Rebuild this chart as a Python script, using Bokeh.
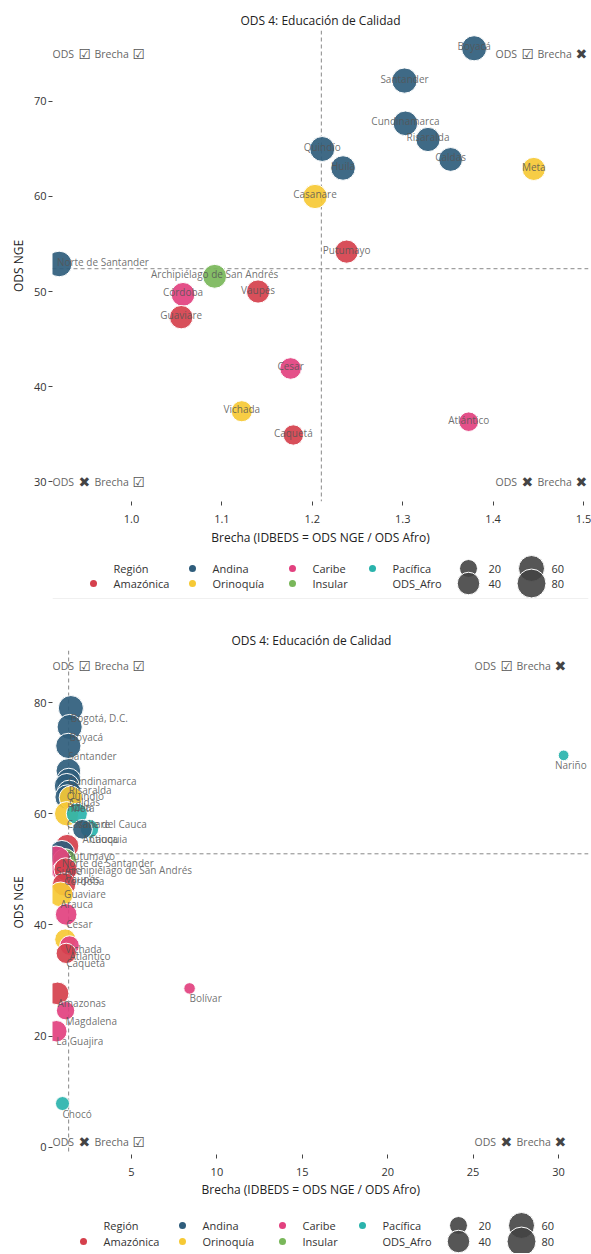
import math
from bokeh.plotting import figure
from bokeh.models import (ColumnDataSource, Range1d, FixedTicker, PrintfTickFormatter,
                          Label, Span, Title)
from bokeh.layouts import column
from bokeh.embed import file_html
from bokeh.resources import INLINE
from bokeh.core.properties import value

FONT = "Open Sans"

title_text = "ODS 4: Educación de Calidad"
x_title = "Brecha (IDBEDS = ODS NGE / ODS Afro)"
y_title = "ODS NGE"

departments = ["Bogotá, D.C.", "Boyacá", "Santander", "Cundinamarca", "Risaralda", "Quindío",
               "Caldas", "Huila", "Meta", "Casanare", "Valle del Cauca", "Cauca", "Antioquia",
               "Putumayo", "Norte de Santander", "Archipiélago de San Andrés", "Sucre", "Córdoba",
               "Vaupés", "Guaviare", "Arauca", "Cesar", "Vichada", "Atlántico", "Caquetá",
               "Bolívar", "Amazonas", "Magdalena", "La Guajira", "Chocó", "Nariño"]
regions = ["Andina", "Andina", "Andina", "Andina", "Andina", "Andina",
           "Andina", "Andina", "Orinoquía", "Orinoquía", "Pacífica", "Pacífica", "Andina",
           "Amazónica", "Andina", "Insular", "Caribe", "Caribe",
           "Amazónica", "Amazónica", "Orinoquía", "Caribe", "Orinoquía", "Caribe", "Amazónica",
           "Caribe", "Amazónica", "Caribe", "Caribe", "Pacífica", "Pacífica"]
brecha = [1.45, 1.379, 1.302, 1.303, 1.328, 1.211,
          1.353, 1.234, 1.445, 1.203, 1.80, 2.54, 2.13,
          1.238, 0.920, 1.092, 0.58, 1.057,
          1.140, 1.055, 0.85, 1.176, 1.122, 1.373, 1.179,
          8.40, 0.67, 1.14, 0.60, 0.96, 30.3]
ods_nge = [79.0, 75.6, 72.2, 67.7, 66.0, 65.0,
           63.9, 63.0, 62.9, 60.0, 60.0, 57.3, 57.2,
           54.2, 52.9, 51.6, 51.5, 49.7,
           50.0, 47.3, 45.5, 41.9, 37.4, 36.3, 34.9,
           28.6, 27.7, 24.6, 20.9, 7.9, 70.5]
ods_afro = [54.5, 54.8, 55.5, 52.0, 49.7, 53.7,
            47.2, 51.1, 43.6, 49.9, 33.3, 22.6, 26.9,
            43.8, 57.6, 47.3, 88.8, 47.0,
            43.8, 44.8, 53.5, 35.6, 33.3, 26.4, 29.6,
            3.4, 41.3, 21.6, 34.8, 8.2, 2.3]

region_names = ["Amazónica", "Andina", "Orinoquía", "Caribe", "Insular", "Pacífica"]
region_colors = ["#D5404C", "#2F5D7C", "#F6C935", "#E2417F", "#79B75A", "#2AB3AC"]
size_breaks = [20, 40, 60, 80]

top_x_ticks = [1.0, 1.1, 1.2, 1.3, 1.4, 1.5]
top_y_ticks = [30, 40, 50, 60, 70]
bottom_x_ticks = [5, 10, 15, 20, 25, 30]
bottom_y_ticks = [0, 20, 40, 60, 80]

top_ref = (1.21, 52.4)
bottom_ref = (1.32, 52.8)

CHECK = "\u2611"
CROSS = "\u2716"
quad_marks = [(CHECK, CHECK), (CHECK, CROSS), (CROSS, CHECK), (CROSS, CROSS)]

color_of = dict(zip(region_names, region_colors))


def diam(v):
    return 7 + 2.45 * math.sqrt(v)


W = 591
BL, BR = 52, 3          # shared frame borders (column aligns frames)
FRAME_W = W - BL - BR
CHAR_W = 5.6            # approx label char width at 10px


def style_title(t, size="12px"):
    t.text_font = FONT
    t.text_font_size = size
    t.text_font_style = "normal"
    t.text_color = "#222222"


def chart(xr, yr, xticks, yticks, xfmt, ref, ann_x, ann_y, H, mbt, mbb, style,
          title_shift=None):
    idx = [i for i in range(len(departments))
           if xr[0] <= brecha[i] <= xr[1] and yr[0] <= ods_nge[i] <= yr[1]]
    src = ColumnDataSource(dict(
        x=[brecha[i] for i in idx], y=[ods_nge[i] for i in idx],
        name=[departments[i] for i in idx],
        color=[color_of[regions[i]] for i in idx],
        size=[diam(ods_afro[i]) for i in idx]))
    p = figure(width=W, height=H, x_range=Range1d(*xr), y_range=Range1d(*yr),
               output_backend="svg", toolbar_location=None,
               min_border_left=BL, min_border_right=BR,
               min_border_top=mbt, min_border_bottom=mbb)
    p.title.text = title_text
    style_title(p.title)
    p.title.standoff = 3
    if title_shift is None:
        p.title.align = "center"
    else:
        p.title.align = "left"
        p.title.offset = title_shift[0]
    p.outline_line_color = None
    p.grid.visible = False
    for ax in (p.xaxis[0], p.yaxis[0]):
        ax.axis_line_color = None
        ax.major_tick_line_color = "#444444"
        ax.major_tick_out = 4
        ax.major_tick_in = 0
        ax.minor_tick_line_color = None
        ax.major_label_text_font = FONT
        ax.major_label_text_font_size = "11px"
        ax.major_label_text_color = "#333333"
        ax.axis_label_text_font = FONT
        ax.axis_label_text_font_size = "12px"
        ax.axis_label_text_font_style = "normal"
        ax.axis_label_text_color = "#222222"
    p.xaxis.major_label_standoff = 9
    p.xaxis.axis_label_standoff = 3
    p.yaxis.major_label_standoff = 2
    p.yaxis.axis_label_standoff = 4
    p.xaxis.ticker = FixedTicker(ticks=xticks)
    p.xaxis.formatter = PrintfTickFormatter(format=xfmt)
    p.yaxis.ticker = FixedTicker(ticks=yticks)
    p.yaxis.axis_label = y_title
    if title_shift is None:
        p.xaxis.axis_label = x_title
    else:
        xt = Title(text=x_title, align="left", offset=title_shift[1], standoff=1)
        style_title(xt)
        p.add_layout(xt, "below")

    p.add_layout(Span(location=ref[0], dimension="height", line_color="#888888",
                      line_dash="4 3", line_width=1, level="underlay"))
    p.add_layout(Span(location=ref[1], dimension="width", line_color="#888888",
                      line_dash="4 3", line_width=1, level="underlay"))

    p.scatter("x", "y", size="size", fill_color="color", fill_alpha=0.92,
              line_color="white", line_width=1, source=src)

    # point labels (kept inside the frame)
    px_per = FRAME_W / (xr[1] - xr[0])
    d = src.data
    for xv, yv, nm in zip(d["x"], d["y"], d["name"]):
        sx = (xv - xr[0]) * px_per
        tw = len(nm) * CHAR_W
        if style == "center":
            left, right = sx - tw / 2, sx + tw / 2
        else:
            left, right = sx, sx + tw
        shift = 0.0
        if left < 0:
            shift = -left
        elif right > FRAME_W:
            shift = FRAME_W - right
        if style == "center":
            lab = Label(x=xv, y=yv, text=nm, text_align="center",
                        text_baseline="middle", x_offset=shift, y_offset=2)
        else:
            lab = Label(x=xv, y=yv, text=nm, text_align="left",
                        text_baseline="top", x_offset=shift, y_offset=-3)
        lab.text_font = FONT
        lab.text_font_size = "10px"
        lab.text_color = "#555555"
        lab.text_alpha = 0.85
        p.add_layout(lab)

    # quadrant annotations: "ODS <mark> Brecha <mark>"
    pieces_off = [0, 26, 42, 80]
    total_w = 93
    corners = [(ann_x[0], ann_y[0], False), (ann_x[1], ann_y[0], True),
               (ann_x[0], ann_y[1], False), (ann_x[1], ann_y[1], True)]
    for (cx, cy, right_al), (m1, m2) in zip(corners, quad_marks):
        start = -total_w if right_al else 0
        parts = [("ODS", FONT, "10.5px", "#666666"),
                 (m1, "DejaVu Sans", "14px", "#555555" if m1 == CHECK else "#444444"),
                 ("Brecha", FONT, "10.5px", "#666666"),
                 (m2, "DejaVu Sans", "14px", "#555555" if m2 == CHECK else "#444444")]
        for off, (t, f, fs, c) in zip(pieces_off, parts):
            p.add_layout(Label(x=cx, y=cy, text=t, x_offset=start + off,
                               text_align="left", text_baseline="middle",
                               text_font=f, text_font_size=fs, text_color=c))
    return p


def legend_fig(H, center, rows, separator=False):
    lp = figure(width=W, height=H, x_range=Range1d(BL, W - BR), y_range=Range1d(H, 0),
                output_backend="svg", toolbar_location=None,
                min_border_left=BL, min_border_right=BR, min_border_top=0, min_border_bottom=0,
                x_axis_location=None, y_axis_location=None)
    lp.outline_line_color = None
    lp.grid.visible = False
    col_rel = [-227, -128, -28, 52]
    size_rel = [148, 211]
    gap = 20
    slots = [("t", "Región")] + [("r", r) for r in region_names] + [("t", "ODS_Afro")]
    dx, dy, dc, tx, ty, tt = [], [], [], [], [], []
    for k, (kind, name) in enumerate(slots):
        c, r = divmod(k, 2)
        x0 = center + col_rel[c]
        if kind == "r":
            dx.append(x0); dy.append(rows[r]); dc.append(color_of[name])
        tx.append(x0 + gap); ty.append(rows[r]); tt.append(name)
    lp.scatter(dx, dy, size=7, fill_color=dc, line_color=None)
    sx, sy, ss = [], [], []
    for k, b in enumerate(size_breaks):
        c, r = divmod(k, 2)
        x0 = center + size_rel[c]
        sx.append(x0); sy.append(rows[r]); ss.append(diam(b))
        tx.append(x0 + gap); ty.append(rows[r]); tt.append(str(b))
    lp.scatter(sx, sy, size=ss, fill_color="#444444", fill_alpha=0.9,
               line_color="white", line_width=1)
    lp.text(tx, ty, text=tt, text_font=value(FONT), text_font_size="11px",
            text_color="#333333", text_baseline="middle", text_align="left")
    if separator:
        lp.add_layout(Span(location=H - 0.5, dimension="width",
                           line_color="#e0e0e0", line_width=1))
    return lp


top_xr = (1.0 - 79 / 904, 1.0 + 457 / 904)
top_yr = (27.9, 77.47)
bot_xr = ((BL - 45.6) / 17.08, (W - BR - 45.6) / 17.08)
bot_yr = (-1.26, 89.35)

p1 = chart(top_xr, top_yr, top_x_ticks, top_y_ticks, "%.1f",
           top_ref, top_xr, (75.0, 30.0), 550, 30, 49, "center")
leg1 = legend_fig(49, 320, (18, 33), separator=True)
p2 = chart(bot_xr, bot_yr, bottom_x_ticks, bottom_y_ticks, "%d",
           bottom_ref, (bot_xr[0], 30.53), (86.5, 1.0), 606, 51, 51, "below",
           title_shift=(179, 149))
leg2 = legend_fig(48, 310, (20, 36))

layout = column(p1, leg1, p2, leg2, spacing=0)
open("out.html", "w").write(file_html(layout, INLINE))
